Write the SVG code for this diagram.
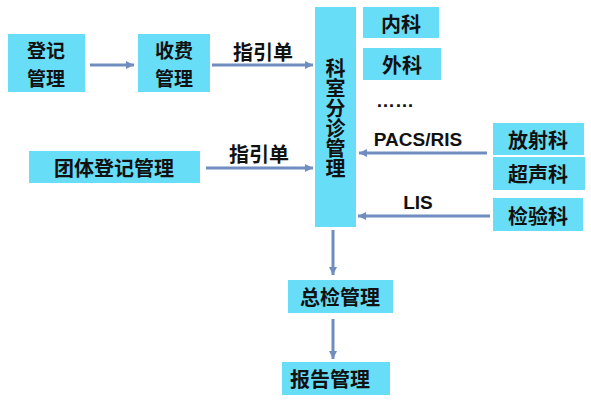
<svg xmlns="http://www.w3.org/2000/svg" width="591" height="407" viewBox="0 0 591 407">
<defs>
<marker id="ah" markerUnits="userSpaceOnUse" markerWidth="10" markerHeight="10" refX="8" refY="5" orient="auto">
<path d="M0,1 L8,5 L0,9 Z" fill="#6F8EBF"/>
</marker>
</defs>
<style>
.box{fill:#68DDF7;}
.t{font-family:"Noto Sans CJK SC","Noto Sans",sans-serif;font-size:20px;font-weight:bold;fill:#111;text-anchor:middle;dominant-baseline:central;}
.t2{font-size:19px;}
.v{font-family:"Noto Sans CJK SC","Noto Sans",sans-serif;font-size:20px;font-weight:bold;fill:#111;text-anchor:middle;writing-mode:vertical-rl;}
.l{font-family:"Liberation Sans",Arial,sans-serif;font-size:19px;font-weight:bold;fill:#111;text-anchor:middle;dominant-baseline:central;}
.c{stroke:#6F8EBF;stroke-width:3;fill:none;marker-end:url(#ah);}
</style>
<rect width="591" height="407" fill="#fff"/>
<g id="connectors">
<line class="c" x1="90" y1="65" x2="134" y2="65"/>
<line class="c" x1="212" y1="65" x2="313" y2="65"/>
<line class="c" x1="206" y1="168" x2="313" y2="168"/>
<line class="c" x1="487" y1="153" x2="359" y2="153"/>
<line class="c" x1="490" y1="216" x2="358" y2="216"/>
<line class="c" x1="333" y1="230" x2="333" y2="275"/>
<line class="c" x1="333" y1="319" x2="333" y2="359"/>
<text class="t" x="263" y="51">指引单</text>
<text class="t" x="259" y="153">指引单</text>
<text class="l" x="418" y="139">PACS/RIS</text>
<text class="l" x="418" y="202">LIS</text>
</g>
<g id="n-dengji"><rect class="box" x="8" y="34" width="77" height="58"/><text class="t t2" x="46" y="49">登记<tspan x="46" dy="28">管理</tspan></text></g>
<g id="n-shoufei"><rect class="box" x="138" y="34" width="72" height="58"/><text class="t t2" x="174" y="49">收费<tspan x="174" dy="28">管理</tspan></text></g>
<g id="n-tuanti"><rect class="box" x="29" y="151" width="171" height="32"/><text class="t" x="114" y="167">团体登记管理</text></g>
<g id="n-keshi"><rect class="box" x="315" y="7" width="41" height="220"/>
<text class="v" x="335.5" y="118">科室分诊管理</text></g>
<g id="n-neike"><rect class="box" x="363" y="7" width="76" height="31"/><text class="t" x="401" y="23">内科</text></g>
<g id="n-waike"><rect class="box" x="363" y="48" width="78" height="32"/><text class="t" x="402" y="64">外科</text></g>
<g id="n-more"><text class="l" x="395" y="100">……</text></g>
<g id="n-fangshe"><rect class="box" x="493" y="123" width="91" height="32"/><text class="t" x="538" y="139">放射科</text></g>
<g id="n-chaosheng"><rect class="box" x="493" y="157" width="92" height="33"/><text class="t" x="538" y="173">超声科</text></g>
<g id="n-jianyan"><rect class="box" x="493" y="198" width="90" height="33"/><text class="t" x="538" y="215">检验科</text></g>
<g id="n-zongjian"><rect class="box" x="288" y="280" width="105" height="33"/><text class="t" x="340" y="296">总检管理</text></g>
<g id="n-baogao"><rect class="box" x="282" y="362" width="108" height="33"/><text class="t" x="330" y="378">报告管理</text></g>
</svg>
